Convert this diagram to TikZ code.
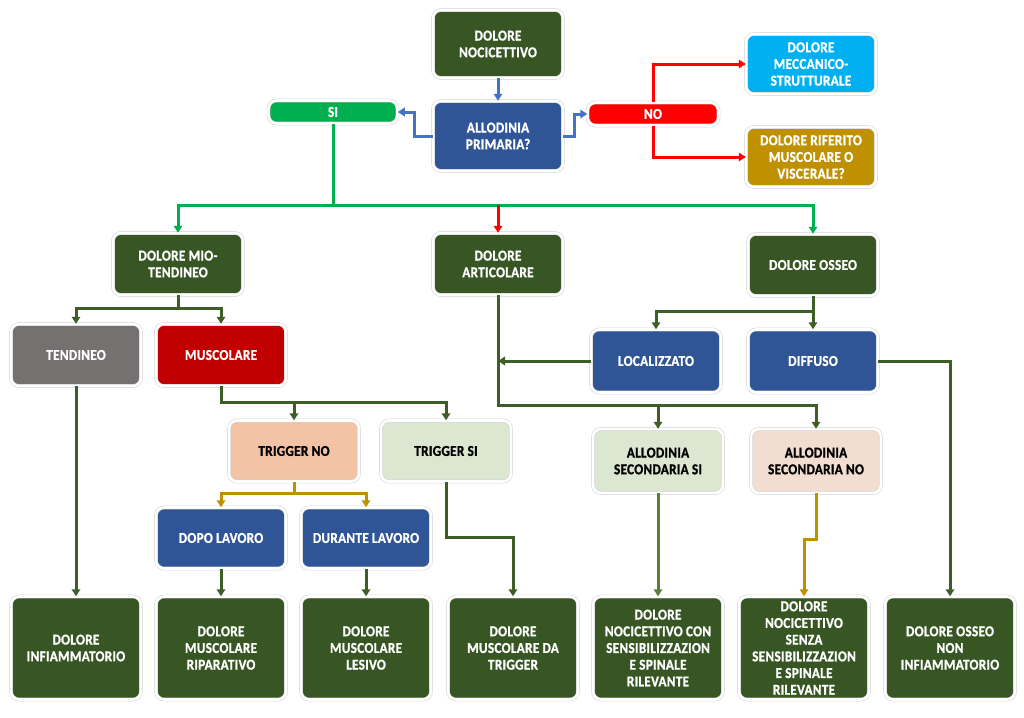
\documentclass[tikz,border=0pt]{standalone}
\usepackage{fontspec}
\setmainfont{Carlito}[BoldFeatures={FakeStretch=0.88, FakeBold=1.2, LetterSpace=2}]
\usetikzlibrary{arrows.meta,shadows}
\definecolor{verdescuro}{HTML}{375623}
\definecolor{blu}{HTML}{2F5597}
\definecolor{bluchiaro}{HTML}{00B0F0}
\definecolor{verdesi}{HTML}{00B050}
\definecolor{rossono}{HTML}{FF0000}
\definecolor{oro}{HTML}{BF9000}
\definecolor{grigio}{HTML}{767171}
\definecolor{rossoscuro}{HTML}{C00000}
\definecolor{pesca}{HTML}{F2C4A5}
\definecolor{verdetenue}{HTML}{DBE7D1}
\definecolor{pescatenue}{HTML}{F3DDD0}
\definecolor{linea}{HTML}{3D5F27}
\definecolor{lineachiara}{HTML}{548235}
\definecolor{lineablu}{HTML}{4472C4}
\tikzset{
	box/.style={draw=black!18, double=white, line width=0.5pt, double distance=2.6pt,
		rounded corners=8pt, fill=#1, text=white,
		minimum width=130pt, minimum height=62pt, align=center, inner sep=2pt,
		font=\bfseries\fontsize{15}{16.7}\selectfont,
		drop shadow={shadow xshift=0.8pt, shadow yshift=-1.2pt, opacity=0.25}},
	box/.default=verdescuro,
	link/.style={line width=3pt, draw=#1, -{Triangle[length=7pt,width=8.5pt]}},
	link/.default=linea
}
\begin{document}
\begin{tikzpicture}[x=1pt,y=-1pt]
	\useasboundingbox (0,0) rectangle (1024,717);
	\node[box, minimum height=68pt] (nocic) at (498,44) {DOLORE\\NOCICETTIVO};
	\node[box=blu, minimum height=70pt] (allo) at (498,136) {ALLODINIA\\PRIMARIA?};
	\node[box=verdesi, minimum height=23pt, minimum width=129pt] (si) at (333,112) {SI};
	\node[box=rossono, minimum height=23pt, minimum width=131pt] (no) at (653,114) {NO};
	\node[box=bluchiaro, minimum height=60pt] (mecc) at (811,64) {DOLORE\\MECCANICO-\\STRUTTURALE};
	\node[box=oro, minimum height=60pt] (rif) at (811,157) {DOLORE RIFERITO\\MUSCOLARE O\\VISCERALE?};
	\node[box] (mio) at (178,264) {DOLORE MIO-\\TENDINEO};
	\node[box] (artic) at (498,264) {DOLORE\\ARTICOLARE};
	\node[box] (osseo) at (813,265) {DOLORE OSSEO};
	\node[box=grigio] (tend) at (76,355) {TENDINEO};
	\node[box=rossoscuro] (musc) at (221,355) {MUSCOLARE};
	\node[box=blu, minimum height=63pt] (loc) at (656,361) {LOCALIZZATO};
	\node[box=blu, minimum height=63pt] (diff) at (813,361) {DIFFUSO};
	\node[box=pesca, text=black, minimum height=61pt] (trigno) at (294,451) {TRIGGER NO};
	\node[box=verdetenue, text=black, minimum height=61pt] (trigsi) at (446,451) {TRIGGER SI};
	\node[box=verdetenue, text=black, minimum height=64pt] (asi) at (658,461) {ALLODINIA\\SECONDARIA SI};
	\node[box=pescatenue, text=black, minimum height=64pt] (ano) at (816,461) {ALLODINIA\\SECONDARIA NO};
	\node[box=blu, minimum height=61pt] (dopo) at (221,538) {DOPO LAVORO};
	\node[box=blu, minimum height=61pt] (dur) at (366,538) {DURANTE LAVORO};
	\node[box, minimum height=103pt] (infiam) at (76,648) {DOLORE\\INFIAMMATORIO};
	\node[box, minimum height=103pt] (ripar) at (221,648) {DOLORE\\MUSCOLARE\\RIPARATIVO};
	\node[box, minimum height=103pt] (lesivo) at (366,648) {DOLORE\\MUSCOLARE\\LESIVO};
	\node[box, minimum height=103pt] (datrig) at (513,648) {DOLORE\\MUSCOLARE DA\\TRIGGER};
	\node[box, minimum height=103pt] (consens) at (658,648) {DOLORE\\NOCICETTIVO CON\\SENSIBILIZZAZION\\E SPINALE\\RILEVANTE};
	\node[box, minimum height=103pt] (senzasens) at (804,648) {DOLORE\\NOCICETTIVO\\SENZA\\SENSIBILIZZAZION\\E SPINALE\\RILEVANTE};
	\node[box, minimum height=103pt] (ossnon) at (950,648) {DOLORE OSSEO\\NON\\INFIAMMATORIO};
	\coordinate (gbus) at (333,205);
	\draw[link=lineablu] (nocic) -- (allo);
	\draw[link=lineablu] (allo.west) -- ++(-18,0) |- (si.east);
	\draw[link=lineablu] (allo.east) -- ++(11,0) |- (no.west);
	\draw[link=rossono] (no.north) |- (mecc.west);
	\draw[link=rossono] (no.south) |- (rif.west);
	\draw[link=verdesi, -] (si.south) -- (gbus);
	\draw[link=verdesi] (gbus) -| (mio.north);
	\draw[link=verdesi] (gbus) -| (osseo.north);
	\draw[link=rossono] (gbus -| artic.north) -- (artic.north);
	\draw[link] (mio.south) -- ++(0,13) -| (tend.north);
	\draw[link] (mio.south) -- ++(0,13) -| (musc.north);
	\draw[link] (tend.south) -- (infiam.north);
	\draw[link] (musc.south) -- ++(0,16) -| (trigno.north);
	\draw[link] (musc.south) -- ++(0,16) -| (trigsi.north);
	\draw[link=oro] (trigno.south) -- ++(0,12) -| (dopo.north);
	\draw[link=oro] (trigno.south) -- ++(0,12) -| (dur.north);
	\draw[link] (dopo.south) -- (ripar.north);
	\draw[link] (dur.south) -- (lesivo.north);
	\draw[link] (trigsi.south) -- ++(0,56) -| (datrig.north);
	\draw[link] (osseo.south) -- ++(0,15) -| (loc.north);
	\draw[link] (osseo.south) -- (diff.north);
	\draw[link] (loc.west) -- (loc.west -| artic.south);
	\draw[link] (artic.south) -- ++(0,110) -| (asi.north);
	\draw[link] (artic.south) -- ++(0,110) -| (ano.north);
	\draw[link] (diff.east) -| (ossnon.north);
	\draw[link=lineachiara] (asi.south) -- (consens.north);
	\draw[link=oro] (ano.south) -- ++(0,46) -| (senzasens.north);
\end{tikzpicture}
\end{document}
